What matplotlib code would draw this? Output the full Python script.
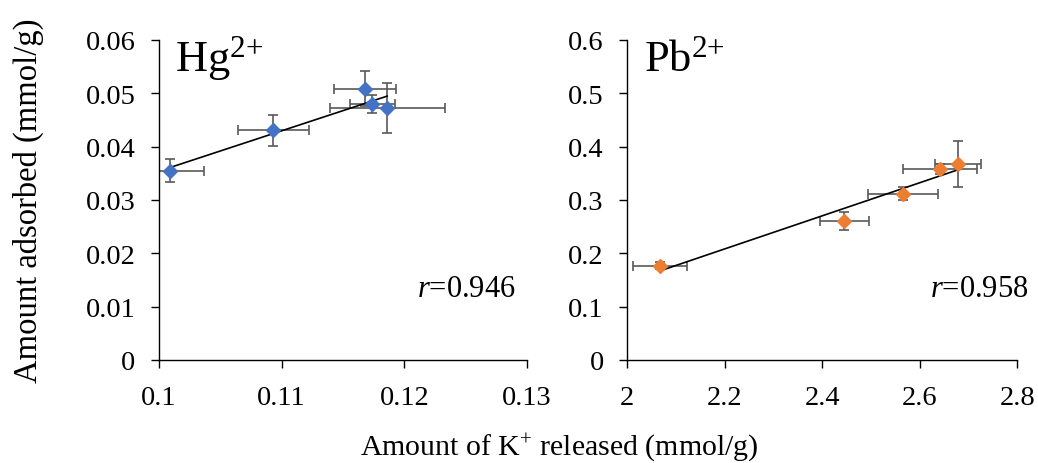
import numpy as np
import matplotlib
matplotlib.use('Agg')
import matplotlib.pyplot as plt
from matplotlib.ticker import FuncFormatter

plt.rcParams['font.family'] = ['Liberation Serif', 'DejaVu Serif']
plt.rcParams['mathtext.fontset'] = 'custom'
plt.rcParams['mathtext.rm'] = 'Liberation Serif'
plt.rcParams['mathtext.it'] = 'Liberation Serif:italic'

# Hg2+ data: K+ released vs amount adsorbed (mmol/g)
hg_x = [0.1009, 0.1093, 0.1168, 0.1174, 0.1186]
hg_y = [0.0355, 0.0431, 0.0509, 0.0480, 0.0472]
hg_xerr = [0.0028, 0.0029, 0.0025, 0.0018, 0.0047]
hg_yerr = [0.0022, 0.0029, 0.0033, 0.0017, 0.0047]
hg_r = 0.946

# Pb2+ data
pb_x = [2.067, 2.445, 2.565, 2.641, 2.679]
pb_y = [0.177, 0.261, 0.312, 0.358, 0.367]
pb_xerr = [0.055, 0.050, 0.072, 0.076, 0.047]
pb_yerr = [0.006, 0.017, 0.012, 0.010, 0.043]
pb_r = 0.958

hg_xticks = [0.1, 0.11, 0.12, 0.13]
hg_yticks = [0, 0.01, 0.02, 0.03, 0.04, 0.05, 0.06]
pb_xticks = [2, 2.2, 2.4, 2.6, 2.8]
pb_yticks = [0, 0.1, 0.2, 0.3, 0.4, 0.5, 0.6]

fig = plt.figure(figsize=(10.38, 4.64), dpi=100)
ax1 = fig.add_axes([159/1038, 103/464, 368/1038, 320/464])
ax2 = fig.add_axes([627.3/1038, 103/464, 390/1038, 320/464])


def panel(ax, x, y, xerr, yerr, color, xticks, yticks, name, r, rx):
    ax.errorbar(x, y, xerr=xerr, yerr=yerr, fmt='none', ecolor='#595959',
                elinewidth=1.2, capsize=3.6, capthick=1.2, zorder=2)
    # linear trend line over the data range
    k, b = np.polyfit(x, y, 1)
    xs = np.array([min(x), max(x)])
    ax.plot(xs, k*xs + b, color='black', lw=1.2, zorder=3)
    ax.plot(x, y, 'D', color=color, markersize=7.2, zorder=4)
    ax.set_xlim(xticks[0], xticks[-1])
    ax.set_ylim(yticks[0], yticks[-1])
    ax.set_xticks(xticks)
    ax.set_yticks(yticks)
    fmt = FuncFormatter(lambda v, p: f'{v:g}')
    ax.xaxis.set_major_formatter(fmt)
    ax.yaxis.set_major_formatter(fmt)
    ax.spines['top'].set_visible(False)
    ax.spines['right'].set_visible(False)
    for s in ['left', 'bottom']:
        ax.spines[s].set_linewidth(1.0)
        ax.spines[s].set_clip_on(False)
    ax.tick_params(direction='out', length=6, width=1, labelsize=20.5)
    ax.tick_params(axis='y', pad=11)
    ax.tick_params(axis='x', pad=12)
    ax.text(0.044, 0.904, name, transform=ax.transAxes, fontsize=32,
            ha='left', va='baseline')
    ax.text(rx, 0.20, f'$r$=' + f'{r:.3f}',
            transform=ax.transAxes, fontsize=22, ha='left', va='baseline')


panel(ax1, hg_x, hg_y, hg_xerr, hg_yerr, '#4472C4', hg_xticks, hg_yticks,
      r'Hg$^{2{+}}$', hg_r, 0.70)
panel(ax2, pb_x, pb_y, pb_xerr, pb_yerr, '#ED7D31', pb_xticks, pb_yticks,
      r'Pb$^{2{+}}$', pb_r, 0.776)

fig.text(28/1038, 0.567, 'Amount adsorbed (mmol/g)', rotation=90,
         ha='center', va='center', fontsize=23.5)
fig.text(559/1038, 9/464, r'Amount of K$^{+}$ released (mmol/g)',
         ha='center', va='baseline', fontsize=21.5)

fig.savefig('out.png', dpi=100)
